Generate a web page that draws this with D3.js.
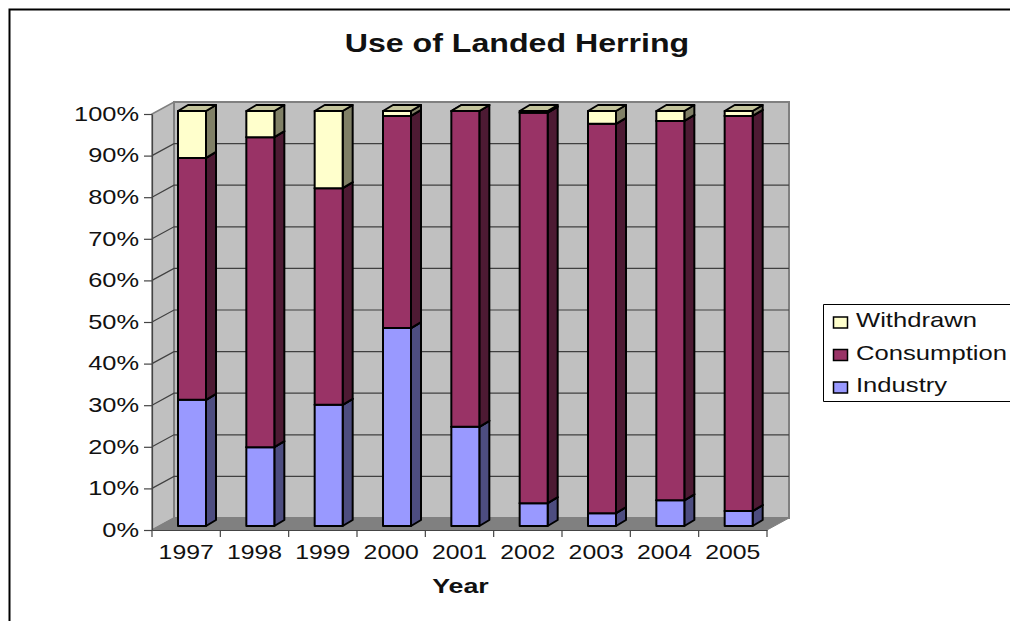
<!DOCTYPE html>
<html lang="en">
<head>
<meta charset="UTF-8">
<script src="https://cdnjs.cloudflare.com/ajax/libs/d3/7.8.5/d3.min.js"></script>
<title>Use of Landed Herring</title>
<style>
    html, body { margin: 0; padding: 0; background: #fff; overflow: hidden; }
    svg { display: block; }
    text { font-family: "Liberation Sans", Arial, sans-serif; fill: #111; }
    .axis text { font-size: 21px; }
    .axis path, .axis line { stroke: #444; stroke-width: 1.2px; }
</style>
</head>
<body>
<svg id="chart" width="1010" height="621"></svg>
<script>
var years = ["1997", "1998", "1999", "2000", "2001", "2002", "2003", "2004", "2005"];
var industry = [30.4, 19.0, 29.2, 47.7, 23.9, 5.5, 3.1, 6.2, 3.6];
var consumption = [58.3, 74.7, 52.2, 51.1, 76.1, 94.1, 93.8, 91.4, 95.2];
var withdrawn = [11.3, 6.3, 18.6, 1.2, 0, 0.4, 3.1, 2.4, 1.2];
var seriesNames = ["Industry", "Consumption", "Withdrawn"];
var yTicks = [0, 10, 20, 30, 40, 50, 60, 70, 80, 90, 100];

var front = ["#9999ff", "#993366", "#ffffcc"];
var side = ["#4d4d80", "#4d1a33", "#808066"];
var topFace = "#c4c49c";

var svg = d3.select("#chart");

// the source chart has its text stretched sideways
function stretch(sel, f) {
    sel.each(function() {
        var w = this.getComputedTextLength();
        d3.select(this).attr("textLength", w * f).attr("lengthAdjust", "spacingAndGlyphs");
    });
}

// outer frame, cut off by the screenshot on the right and bottom
svg.append("path").attr("d", "M9.5,621V9.5H1010").attr("fill", "none").attr("stroke", "#000").attr("stroke-width", 2);

var x = d3.scaleBand().domain(years).range([152, 767]);
var y = d3.scaleLinear().domain([0, 100]).range([530, 114]);
var yBar = d3.scaleLinear().domain([0, 100]).range([526, 111]);

// wall depth and bar depth
var dx = 22, dy = 12;
var barW = 28, barDx = 10, barDy = 6;
var barOffX = 26;

var x0 = x.range()[0], x1 = x.range()[1];
function pts(a) { return a.map(function(p) { return p.join(","); }).join(" "); }

var walls = svg.append("g");
// left wall
walls.append("polygon")
    .attr("points", pts([[x0, y(0)], [x0 + dx, y(0) - dy], [x0 + dx, y(100) - dy], [x0, y(100)]]))
    .attr("fill", "#c0c0c0").attr("stroke", "#808080").attr("stroke-width", 1.5);
// back wall
walls.append("polygon")
    .attr("points", pts([[x0 + dx, y(0) - dy], [x1 + dx, y(0) - dy], [x1 + dx, y(100) - dy], [x0 + dx, y(100) - dy]]))
    .attr("fill", "#c0c0c0").attr("stroke", "#808080").attr("stroke-width", 2);
// floor
walls.append("polygon")
    .attr("points", pts([[x0, y(0)], [x1, y(0)], [x1 + dx, y(0) - dy], [x0 + dx, y(0) - dy]]))
    .attr("fill", "#808080").attr("stroke", "#808080");

// gridlines on both walls
walls.selectAll("polyline.grid")
    .data(yTicks.slice(1, -1))
    .enter().append("polyline")
    .attr("class", "grid")
    .attr("points", function(d) { return pts([[x0, y(d)], [x0 + dx, y(d) - dy], [x1 + dx, y(d) - dy]]); })
    .attr("fill", "none").attr("stroke", "#404040").attr("stroke-width", 1.2);

// bars
var stacked = d3.stack().keys([0, 1, 2]).value(function(d, k) { return d[k]; })(
    years.map(function(yr, i) { return [industry[i], consumption[i], withdrawn[i]]; })
);

var bars = svg.append("g").attr("stroke", "#000").attr("stroke-width", 2).attr("stroke-linejoin", "round");
years.forEach(function(yr, i) {
    var bx = x(yr) + barOffX;
    stacked.forEach(function(layer, k) {
        var lo = yBar(layer[i][0]), hi = yBar(layer[i][1]);
        var g = bars.append("g");
        g.append("polygon")
            .attr("points", pts([[bx + barW, lo], [bx + barW + barDx, lo - barDy], [bx + barW + barDx, hi - barDy], [bx + barW, hi]]))
            .attr("fill", side[k]);
        g.append("polygon")
            .attr("points", pts([[bx, hi], [bx + barDx, hi - barDy], [bx + barW + barDx, hi - barDy], [bx + barW, hi]]))
            .attr("fill", topFace);
        g.append("rect")
            .attr("x", bx).attr("y", hi).attr("width", barW).attr("height", lo - hi)
            .attr("fill", front[k]);
    });
});

// axes
var yAxis = d3.axisLeft(y).tickValues(yTicks).tickSize(8).tickSizeOuter(0)
    .tickFormat(function(d) { return d + "%"; });
var yAxisG = svg.append("g").attr("class", "axis").attr("transform", "translate(" + x0 + ",0)").call(yAxis);
yAxisG.selectAll("text").attr("x", -13).attr("dy", "0.3em").call(stretch, 1.21);

var xAxisG = svg.append("g").attr("class", "axis").attr("transform", "translate(0," + y(0) + ")")
    .call(d3.axisBottom(x).tickSize(0).tickSizeOuter(0));
xAxisG.selectAll("text").attr("y", 29).attr("dy", 0).call(stretch, 1.18);
// tick marks sit between the years, at the band edges
xAxisG.selectAll("line.sep")
    .data(years.concat(["end"]))
    .enter().append("line")
    .attr("class", "sep")
    .attr("x1", function(d, i) { return x0 + i * x.step(); })
    .attr("x2", function(d, i) { return x0 + i * x.step(); })
    .attr("y1", 0).attr("y2", 7);

// titles
svg.append("text").attr("x", 517).attr("y", 52).attr("text-anchor", "middle")
    .attr("font-weight", "bold").attr("font-size", 25).attr("fill", "#000").text("Use of Landed Herring")
    .call(stretch, 1.285);
svg.append("text").attr("x", 460.5).attr("y", 593).attr("text-anchor", "middle")
    .attr("font-weight", "bold").attr("font-size", 20).text("Year")
    .call(stretch, 1.34);

// legend
var legend = svg.append("g");
legend.append("path").attr("d", "M1010,304.5H823.5V401.5H1010").attr("fill", "#fff").attr("stroke", "#000");
var legendY = d3.scalePoint().domain(["Withdrawn", "Consumption", "Industry"]).range([322.5, 387.5]);
var order = [2, 1, 0];
order.forEach(function(k) {
    var name = seriesNames[k];
    legend.append("rect").attr("x", 833.5).attr("y", legendY(name) - 5.5).attr("width", 14).attr("height", 11)
        .attr("fill", front[k]).attr("stroke", "#000").attr("stroke-width", 1.5);
    legend.append("text").attr("x", 856).attr("y", legendY(name) + 4.5)
        .attr("font-size", 21).text(name)
        .call(stretch, 1.22);
});
</script>
</body>
</html>
